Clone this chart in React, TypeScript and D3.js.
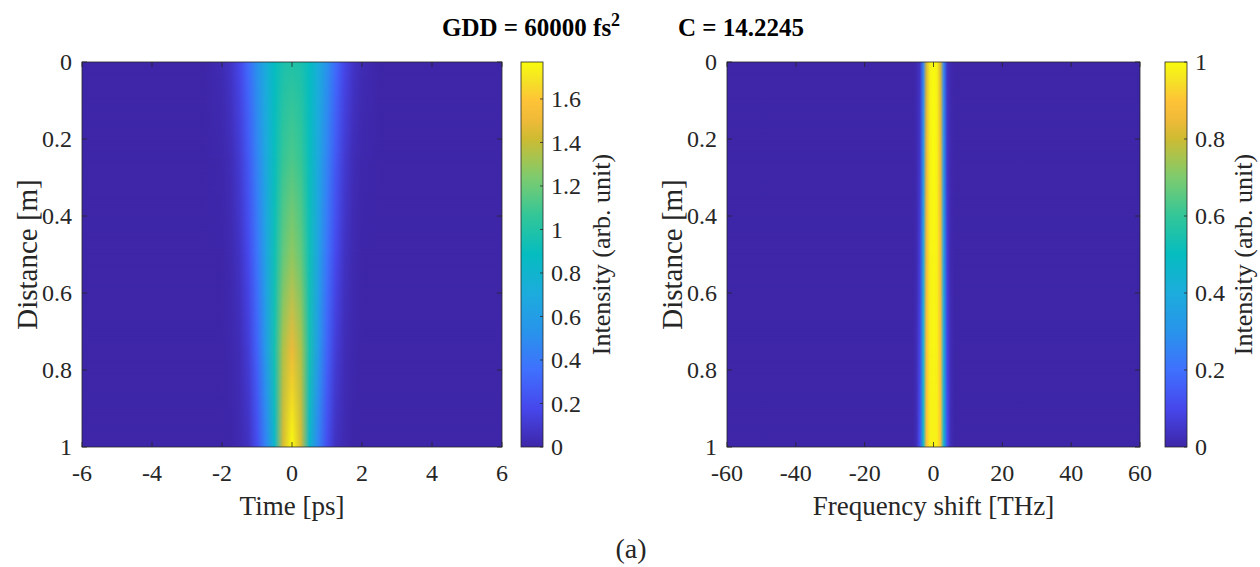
import React from 'react';
import * as d3 from 'd3';

// pulse evolution
const distanceM = [0, 0.25, 0.5, 0.75, 1];

const timePs = [-2.5, -2, -1.75, -1.5, -1.25, -1, -0.75, -0.5, -0.25, 0, 0.25, 0.5, 0.75, 1, 1.25, 1.5, 1.75, 2, 2.5];
const timeIntensity = [
  [0, 0.03, 0.08, 0.17, 0.33, 0.52, 0.72, 0.88, 0.97, 1.0, 0.97, 0.88, 0.72, 0.52, 0.33, 0.17, 0.08, 0.03, 0],
  [0, 0.01, 0.04, 0.11, 0.25, 0.45, 0.68, 0.9, 1.07, 1.12, 1.07, 0.9, 0.68, 0.45, 0.25, 0.11, 0.04, 0.01, 0],
  [0, 0, 0.02, 0.07, 0.18, 0.38, 0.64, 0.93, 1.18, 1.28, 1.18, 0.93, 0.64, 0.38, 0.18, 0.07, 0.02, 0, 0],
  [0, 0, 0.01, 0.04, 0.12, 0.3, 0.58, 0.95, 1.35, 1.5, 1.35, 0.95, 0.58, 0.3, 0.12, 0.04, 0.01, 0, 0],
  [0, 0, 0, 0.02, 0.06, 0.2, 0.45, 0.82, 1.45, 1.77, 1.45, 0.82, 0.45, 0.2, 0.06, 0.02, 0, 0, 0],
];

const freqTHz = [-6, -5, -4, -3, -2, -1, 0, 1, 2, 3, 4, 5, 6];
const freqIntensity = [
  [0, 0.01, 0.04, 0.25, 0.82, 0.98, 1.0, 0.98, 0.82, 0.25, 0.04, 0.01, 0],
  [0, 0.01, 0.05, 0.3, 0.85, 0.98, 1.0, 0.98, 0.85, 0.3, 0.05, 0.01, 0],
  [0, 0.01, 0.07, 0.35, 0.87, 0.98, 0.99, 0.98, 0.87, 0.35, 0.07, 0.01, 0],
  [0, 0.02, 0.09, 0.4, 0.89, 0.98, 0.99, 0.98, 0.89, 0.4, 0.09, 0.02, 0],
  [0, 0.02, 0.12, 0.45, 0.9, 0.98, 0.98, 0.98, 0.9, 0.45, 0.12, 0.02, 0],
];

const timeTicks = [-6, -4, -2, 0, 2, 4, 6];
const freqTicks = [-60, -40, -20, 0, 20, 40, 60];
const distTicks = [0, 0.2, 0.4, 0.6, 0.8, 1];
const cbarTicksLeft = [0, 0.2, 0.4, 0.6, 0.8, 1, 1.2, 1.4, 1.6];
const cbarTicksRight = [0, 0.2, 0.4, 0.6, 0.8, 1];

// parula approximation
const parulaStops = [0, 0.1, 0.2, 0.3, 0.4, 0.5, 0.6, 0.7, 0.75, 0.8, 0.85, 0.9, 0.95, 1];
const parulaColors = [
  '#3e26a8', '#4647ec', '#3f70fe', '#2894eb', '#1cacdc', '#05bcc0', '#32c699',
  '#7dcb6e', '#a5c450', '#cdbb32', '#f0ba38', '#fec337', '#f5e126', '#f9fb0e',
];
const parula = d3.scaleLinear<string>().domain(parulaStops).range(parulaColors)
  .interpolate(d3.interpolateRgb).clamp(true);

const serif = '"Liberation Serif", "Times New Roman", serif';
const axisColor = '#262626';

const top = 62, bottom = 447;

type PanelProps = {
  id: string;
  x0: number; x1: number; cb0: number; cb1: number;
  grid: number[]; rows: number[][]; vmax: number;
  xDomain: [number, number]; xTicks: number[]; cTicks: number[];
  xLabel: string; yLabelX: number; cLabelX: number;
};

const Panel = ({ id, x0, x1, cb0, cb1, grid, rows, vmax, xDomain, xTicks, cTicks, xLabel, yLabelX, cLabelX }: PanelProps) => {
  const x = d3.scaleLinear().domain(xDomain).range([x0, x1]);
  const y = d3.scaleLinear().domain([0, 1]).range([top, bottom]);
  const c = d3.scaleLinear().domain([0, vmax]).range([bottom, top]);
  const gx1 = x(grid[0]);
  const gx2 = x(grid[grid.length - 1]);
  const tick = 5;

  return (
    <g>
      <defs>
        {rows.map((row, i) => (
          <linearGradient key={i} id={`${id}-row${i}`} gradientUnits="userSpaceOnUse" x1={gx1} x2={gx2} y1={0} y2={0}>
            {row.map((v, j) => (
              <stop key={j} offset={(x(grid[j]) - gx1) / (gx2 - gx1)} stopColor={parula(v / vmax)} />
            ))}
          </linearGradient>
        ))}
        <linearGradient id={`${id}-cbar`} x1={0} y1={1} x2={0} y2={0}>
          {d3.range(0, 1.0001, 0.05).map((t) => (
            <stop key={t} offset={t} stopColor={parula(t)} />
          ))}
        </linearGradient>
        <linearGradient id={`${id}-fade`} x1={0} y1={0} x2={0} y2={1}>
          <stop offset={0} stopColor="black" />
          <stop offset={1} stopColor="white" />
        </linearGradient>
        <mask id={`${id}-mask`} maskContentUnits="objectBoundingBox">
          <rect x={0} y={0} width={1} height={1} fill={`url(#${id}-fade)`} />
        </mask>
        <clipPath id={`${id}-clip`}>
          <rect x={x0} y={top} width={x1 - x0} height={bottom - top} />
        </clipPath>
      </defs>

      <g clipPath={`url(#${id}-clip)`}>
        <rect x={x0} y={top} width={x1 - x0} height={bottom - top} fill={parula(0)} />
        {distanceM.slice(0, -1).map((d, i) => {
          const ya = y(d);
          const yb = y(distanceM[i + 1]);
          return (
            <g key={i}>
              <rect x={x0} y={ya - 0.5} width={x1 - x0} height={yb - ya + 1} fill={`url(#${id}-row${i})`} />
              <rect x={x0} y={ya - 0.5} width={x1 - x0} height={yb - ya + 1} fill={`url(#${id}-row${i + 1})`} mask={`url(#${id}-mask)`} />
            </g>
          );
        })}
      </g>

      {/* axes box and ticks */}
      <rect x={x0} y={top} width={x1 - x0} height={bottom - top} fill="none" stroke={axisColor} strokeWidth={0.8} />
      {xTicks.map((t) => (
        <g key={t}>
          <line x1={x(t)} x2={x(t)} y1={bottom} y2={bottom - tick} stroke={axisColor} strokeWidth={0.8} />
          <line x1={x(t)} x2={x(t)} y1={top} y2={top + tick} stroke={axisColor} strokeWidth={0.8} />
          <text x={x(t)} y={bottom + 34} textAnchor="middle" fontFamily={serif} fontSize={24} fill={axisColor}>{t}</text>
        </g>
      ))}
      {distTicks.map((t) => (
        <g key={t}>
          <line x1={x0} x2={x0 + tick} y1={y(t)} y2={y(t)} stroke={axisColor} strokeWidth={0.8} />
          <line x1={x1} x2={x1 - tick} y1={y(t)} y2={y(t)} stroke={axisColor} strokeWidth={0.8} />
          <text x={x0 - 10} y={y(t)} dy="0.35em" textAnchor="end" fontFamily={serif} fontSize={24} fill={axisColor}>{t}</text>
        </g>
      ))}
      <text x={(x0 + x1) / 2} y={515} textAnchor="middle" fontFamily={serif} fontSize={27} fill={axisColor}>{xLabel}</text>
      <text transform={`translate(${yLabelX},${(top + bottom) / 2}) rotate(-90)`} textAnchor="middle" dy="0.34em" fontFamily={serif} fontSize={29} fill={axisColor}>Distance [m]</text>

      {/* colorbar */}
      <rect x={cb0} y={top} width={cb1 - cb0} height={bottom - top} fill={`url(#${id}-cbar)`} stroke={axisColor} strokeWidth={0.8} />
      {cTicks.map((t) => (
        <g key={t}>
          <line x1={cb1} x2={cb1 - 3} y1={c(t)} y2={c(t)} stroke={axisColor} strokeWidth={0.8} />
          <text x={cb1 + 8} y={c(t)} dy="0.35em" fontFamily={serif} fontSize={24} fill={axisColor}>{t}</text>
        </g>
      ))}
      <text transform={`translate(${cLabelX},${(top + bottom) / 2}) rotate(-90)`} textAnchor="middle" dy="0.35em" fontFamily={serif} fontSize={26} fill={axisColor}>Intensity (arb. unit)</text>
    </g>
  );
};

const App = () => (
  <svg width={1260} height={567} style={{ position: 'absolute', left: 0, top: 0, background: 'white' }}>
    <text y={36} fontFamily={serif} fontWeight="bold" fontSize={25} fill="#000">
      <tspan x={442}>GDD = 60000 fs</tspan>
      <tspan dy={-10} fontSize={18}>2</tspan>
      <tspan x={678} dy={10}>C = 14.2245</tspan>
    </text>
    <Panel id="time" x0={82} x1={502} cb0={521} cb1={543}
      grid={timePs} rows={timeIntensity} vmax={1.77}
      xDomain={[-6, 6]} xTicks={timeTicks} cTicks={cbarTicksLeft}
      xLabel="Time [ps]" yLabelX={27} cLabelX={601} />
    <Panel id="freq" x0={727} x1={1140} cb0={1165} cb1={1187}
      grid={freqTHz} rows={freqIntensity} vmax={1}
      xDomain={[-60, 60]} xTicks={freqTicks} cTicks={cbarTicksRight}
      xLabel="Frequency shift [THz]" yLabelX={672} cLabelX={1243} />
    <text x={631} y={558} textAnchor="middle" fontFamily={serif} fontSize={28} fill={axisColor}>(a)</text>
  </svg>
);

export default App;
